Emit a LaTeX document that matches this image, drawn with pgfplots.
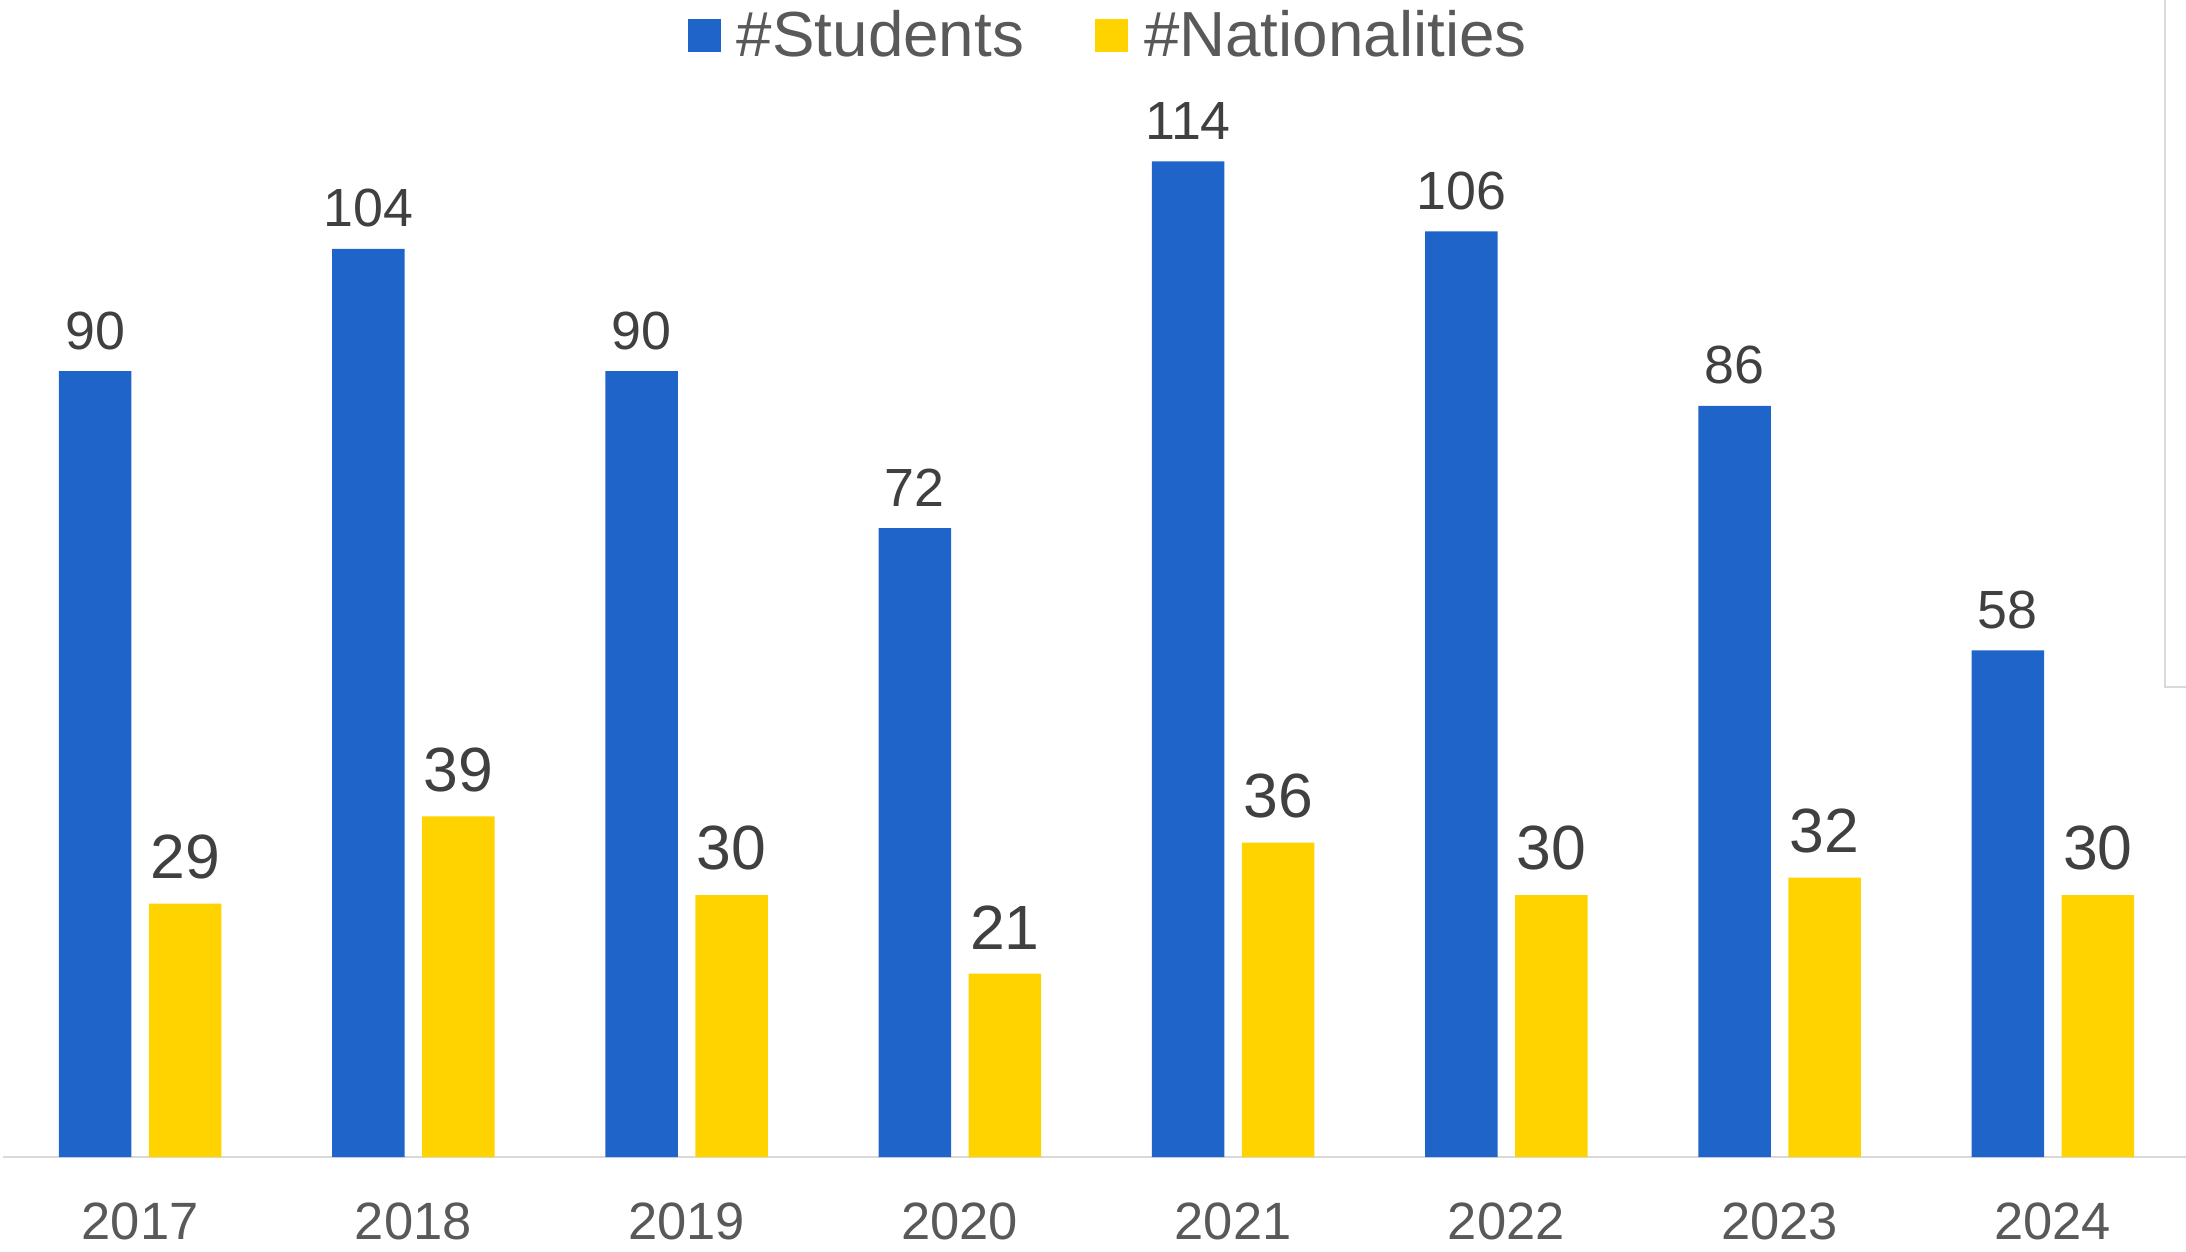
\documentclass[border=0pt]{standalone}
\usepackage{pgfplots}
\pgfplotsset{compat=1.18}
\usepackage{fontspec}
\setmainfont{Liberation Sans}
\definecolor{cblue}{HTML}{1F64C8}
\definecolor{cyellow}{HTML}{FFD300}
\definecolor{labgray}{HTML}{404040}
\definecolor{tickgray}{HTML}{595959}
\definecolor{linegray}{HTML}{D9D9D9}
\begin{document}
\begin{tikzpicture}
\useasboundingbox (0,0) rectangle (874.4pt,500.4pt);
\begin{axis}[
  at={(1.36pt,37.6pt)}, anchor=south west,
  scale only axis, width=874.4pt, height=454.1pt,
  ybar, bar width=29pt,
  xmin=-0.5, xmax=7.5, ymin=0, ymax=130,
  xtick={0,1,2,3,4,5,6,7},
  xticklabels={2017,2018,2019,2020,2021,2022,2023,2024},
  xtick style={draw=none}, ytick=\empty,
  axis x line*=bottom, axis y line=none,
  x axis line style={draw=linegray, line width=0.8pt},
  xticklabel style={font=\fontsize{21}{24}\selectfont, text=tickgray, inner sep=0pt, anchor=north, yshift=-14pt},
  /pgf/number format/assume math mode=true,
  legend style={at={(0.505,0.988)}, anchor=center, draw=none, fill=none,
    legend columns=2, font=\fontsize{25.5}{28}\selectfont, text=tickgray,
    nodes={inner sep=0pt},
    /tikz/every odd column/.append style={column sep=6.4pt},
    /tikz/every even column/.append style={column sep=28.4pt}},
  legend image code/.code={\fill[#1] (0pt,-6.6pt) rectangle (13.2pt,6.6pt);},
  clip=false,
]
\addplot[draw=none, fill=cblue, bar shift=-18pt,
  nodes near coords,
  every node near coord/.style={font=\fontsize{21.5}{24}\selectfont, text=labgray, inner sep=0pt, anchor=south, xshift=-18pt, yshift=8.4pt}]
  coordinates {(0,90) (1,104) (2,90) (3,72) (4,114) (5,106) (6,86) (7,58)};
\addlegendentry{\#Students}
\addplot[draw=none, fill=cyellow, bar shift=18pt,
  nodes near coords,
  every node near coord/.style={font=\fontsize{25}{28}\selectfont, text=labgray, inner sep=0pt, anchor=south, xshift=18pt, yshift=9.6pt}]
  coordinates {(0,29) (1,39) (2,30) (3,21) (4,36) (5,30) (6,32) (7,30)};
\addlegendentry{\#Nationalities}
\end{axis}
\draw[linegray, line width=0.8pt] (866pt,500.4pt) -- (866pt,225.6pt) -- (874.4pt,225.6pt);
\end{tikzpicture}
\end{document}
